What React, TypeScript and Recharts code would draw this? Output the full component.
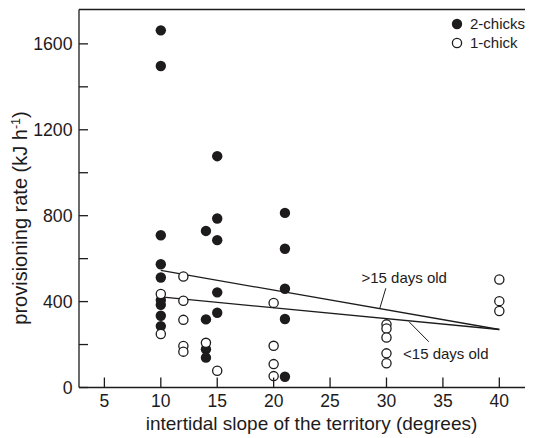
import { ComposedChart, Legend, ReferenceDot, ReferenceLine, Scatter, XAxis, YAxis } from "recharts";

type Pt = { slope: number; rate: number };

const twoChicks: Pt[] = [
  { slope: 10, rate: 1663 }, { slope: 10, rate: 1497 }, { slope: 10, rate: 709 },
  { slope: 10, rate: 574 }, { slope: 10, rate: 512 }, { slope: 10, rate: 407 },
  { slope: 10, rate: 385 }, { slope: 10, rate: 334 }, { slope: 10, rate: 286 },
  { slope: 14, rate: 729 }, { slope: 14, rate: 317 }, { slope: 14, rate: 178 }, { slope: 14, rate: 139 },
  { slope: 15, rate: 1077 }, { slope: 15, rate: 787 }, { slope: 15, rate: 686 },
  { slope: 15, rate: 443 }, { slope: 15, rate: 348 },
  { slope: 21, rate: 813 }, { slope: 21, rate: 646 }, { slope: 21, rate: 460 },
  { slope: 21, rate: 319 }, { slope: 21, rate: 50 },
];

const oneChick: Pt[] = [
  { slope: 10, rate: 435 }, { slope: 10, rate: 249 },
  { slope: 12, rate: 517 }, { slope: 12, rate: 404 }, { slope: 12, rate: 315 },
  { slope: 12, rate: 193 }, { slope: 12, rate: 167 },
  { slope: 14, rate: 208 }, { slope: 15, rate: 78 },
  { slope: 20, rate: 394 }, { slope: 20, rate: 194 }, { slope: 20, rate: 109 }, { slope: 20, rate: 53 },
  { slope: 30, rate: 294 }, { slope: 30, rate: 275 }, { slope: 30, rate: 233 },
  { slope: 30, rate: 159 }, { slope: 30, rate: 113 },
  { slope: 40, rate: 503 }, { slope: 40, rate: 402 }, { slope: 40, rate: 356 },
];

const olderFit = [{ x: 10, y: 545 }, { x: 40, y: 270 }];
const youngerFit = [{ x: 10, y: 422 }, { x: 40, y: 270 }];

const notes = [
  { text: ">15 days old", x: 27.78, y: 513, from: { x: 29.94, y: 462 }, to: { x: 29.41, y: 369 } },
  { text: "<15 days old", x: 31.47, y: 156, from: { x: 33.75, y: 213 }, to: { x: 32.0, y: 306 } },
];

const xTicks = [5, 10, 15, 20, 25, 30, 35, 40];
const yTicks = [0, 200, 400, 600, 800, 1000, 1200, 1400, 1600];

const ink = "#1d1b1c";
const font = "'Liberation Sans', Arial, sans-serif";

function FilledDot(props: any) {
  return <circle cx={props.cx} cy={props.cy} r={5.2} fill={ink} />;
}

function OpenDot(props: any) {
  return <circle cx={props.cx} cy={props.cy} r={4.6} fill="#fff" stroke={ink} strokeWidth={1.3} />;
}

function XTick(props: any) {
  const { x, y, payload } = props;
  return (
    <g>
      <line x1={x} x2={x} y1={y} y2={y - 10} stroke={ink} strokeWidth={1.3} />
      <text x={x} y={y + 19.5} textAnchor="middle" fontSize={17.5} fill={ink} fontFamily={font}>
        {payload.value}
      </text>
    </g>
  );
}

function YTick(props: any) {
  const { x, y, payload } = props;
  return (
    <g>
      <line x1={x} x2={x + 9} y1={y} y2={y} stroke={ink} strokeWidth={1.3} />
      {payload.value % 400 === 0 && (
        <text x={x - 6.5} y={y} dy="0.35em" textAnchor="end" fontSize={17.7} fill={ink} fontFamily={font}>
          {payload.value}
        </text>
      )}
    </g>
  );
}

function LegendBox() {
  const items = [
    { name: "2-chicks", Dot: FilledDot },
    { name: "1-chick", Dot: OpenDot },
  ];
  return (
    <svg width={100} height={44}>
      {items.map((it, i) => (
        <g key={it.name}>
          <it.Dot cx={9} cy={12 + i * 19} />
          <text x={22} y={12 + i * 19} dy="0.35em" fontSize={15} fill={ink} fontFamily={font}>
            {it.name}
          </text>
        </g>
      ))}
    </svg>
  );
}

export default function App() {
  return (
    <div style={{ width: 524, height: 430, overflow: "hidden", fontFamily: font }}>
      <ComposedChart width={540} height={430} margin={{ top: 1.5, right: 12, bottom: 0, left: 0 }}>
        <XAxis
          type="number"
          dataKey="slope"
          domain={[2.75, 43.25]}
          ticks={xTicks}
          interval={0}
          height={50.5}
          tickSize={0}
          tickMargin={0}
          tickLine={false}
          tick={<XTick />}
          axisLine={{ stroke: ink, strokeWidth: 1.3 }}
          allowDataOverflow
          label={{
            content: (p: any) => (
              <text
                x={p.viewBox.x + p.viewBox.width / 2 + 4}
                y={p.viewBox.y + 42}
                textAnchor="middle"
                fontSize={19}
                fill={ink}
                fontFamily={font}
              >
                intertidal slope of the territory (degrees)
              </text>
            ),
          }}
        />
        <YAxis
          type="number"
          dataKey="rate"
          domain={[0, 1760]}
          ticks={yTicks}
          interval={0}
          width={71}
          tickSize={0}
          tickMargin={0}
          tickLine={false}
          tick={<YTick />}
          axisLine={{ stroke: ink, strokeWidth: 1.3 }}
          allowDataOverflow
          label={{
            content: () => {
              const cx = 18.5;
              const cy = 210;
              return (
                <text
                  x={cx}
                  y={cy}
                  transform={`rotate(-90 ${cx} ${cy})`}
                  textAnchor="middle"
                  fontSize={20}
                  fill={ink}
                  fontFamily={font}
                >
                  provisioning rate (kJ h
                  <tspan fontSize={12.5} dy={-7}>-1</tspan>
                  <tspan dy={7}>)</tspan>
                </text>
              );
            },
          }}
        />
        <ReferenceLine y={1760} stroke={ink} strokeWidth={1.3} ifOverflow="visible" />
        <ReferenceLine segment={olderFit} stroke={ink} strokeWidth={1.3} ifOverflow="visible" />
        <ReferenceLine segment={youngerFit} stroke={ink} strokeWidth={1.3} ifOverflow="visible" />
        {notes.map((n) => (
          <ReferenceLine key={n.text + "l"} segment={[n.from, n.to]} stroke={ink} strokeWidth={1} ifOverflow="visible" />
        ))}
        {notes.map((n) => (
          <ReferenceDot
            key={n.text}
            x={n.x}
            y={n.y}
            r={0}
            fill="none"
            stroke="none"
            ifOverflow="visible"
            label={{ value: n.text, position: "right", offset: 0, fontSize: 15, fill: ink, fontFamily: font }}
          />
        ))}
        <Scatter name="2-chicks" data={twoChicks} shape={<FilledDot />} isAnimationActive={false} />
        <Scatter name="1-chick" data={oneChick} shape={<OpenDot />} isAnimationActive={false} />
        <Legend
          layout="horizontal"
          verticalAlign="middle"
          align="center"
          content={<LegendBox />}
          wrapperStyle={{ left: 440, top: 4, width: 100, height: 44 }}
        />
      </ComposedChart>
    </div>
  );
}
